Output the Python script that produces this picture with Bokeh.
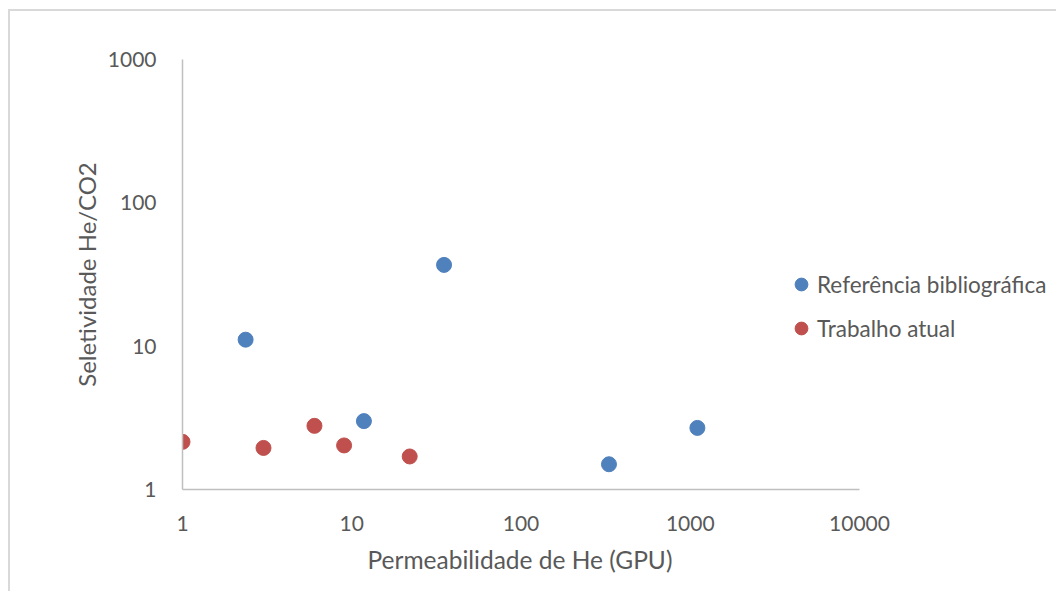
from bokeh.plotting import figure
from bokeh.models import ColumnDataSource, FixedTicker, Legend, LegendItem, Title
from bokeh.embed import file_html
from bokeh.resources import INLINE

# He permeability (GPU) and He/CO2 selectivity
ref_perm = [2.36, 35.1, 11.8, 331, 1102]
ref_sel = [11.1, 36.9, 3.0, 1.50, 2.69]
cur_perm = [1.0, 3.01, 6.02, 9.01, 22.0]
cur_sel = [2.15, 1.95, 2.78, 2.03, 1.70]

x_ticks = [1, 10, 100, 1000, 10000]
y_ticks = [1, 10, 100, 1000]

FONT = "Lato"
TEXT = "#595959"
AXIS = "#BFBFBF"
BLUE = "#4F81BD"
RED = "#C0504D"

# the drawn x axis spans 1..10000 over 677 px; the frame continues to the
# right so the legend can sit beside the axis end
AXIS_PX = 677
CANVAS_W = 1046
FRAME_W = CANVAS_W - 172
x_end = 10 ** (4 * FRAME_W / AXIS_PX)

p = figure(
    x_axis_type="log", y_axis_type="log",
    x_range=(1, x_end), y_range=(1, 1000),
    width=CANVAS_W, height=580,
    frame_width=FRAME_W, frame_height=430,
    min_border_left=172, min_border_right=0,
    min_border_top=48, min_border_bottom=102,
    output_backend="svg", toolbar_location=None,
    background_fill_color="white", border_fill_color="white",
)
p.styles = {"border-top": "2px solid #D9D9D9",
            "border-left": "2px solid #D9D9D9",
            "margin-left": "8px", "margin-top": "9px"}
p.outline_line_color = None
p.grid.visible = False

for ax in (p.xaxis, p.yaxis):
    ax.axis_line_color = AXIS
    ax.axis_line_width = 1.5
    ax.major_tick_line_color = None
    ax.minor_tick_line_color = None
    ax.major_label_text_font = FONT
    ax.major_label_text_font_size = "21px"
    ax.major_label_text_color = TEXT

p.xaxis.bounds = (1, 10000)
p.xaxis.ticker = FixedTicker(ticks=x_ticks)
p.yaxis.ticker = FixedTicker(ticks=y_ticks)
p.xaxis.major_label_overrides = {t: str(t) for t in x_ticks}
p.yaxis.major_label_overrides = {t: str(t) for t in y_ticks}
p.xaxis.major_label_standoff = 20
p.yaxis.major_label_standoff = 20

p.yaxis.axis_label = "Seletividade He/CO2"
p.yaxis.axis_label_text_font = FONT
p.yaxis.axis_label_text_font_size = "24px"
p.yaxis.axis_label_text_font_style = "normal"
p.yaxis.axis_label_text_color = TEXT
p.yaxis.axis_label_standoff = 4

# x title, centred under the drawn axis rather than the wider frame
p.add_layout(Title(text="Permeabilidade de He (GPU)", align="left",
                   offset=185, standoff=18, text_font=FONT,
                   text_font_size="24.5px", text_font_style="normal",
                   text_color=TEXT), "below")

ref_src = ColumnDataSource(dict(x=ref_perm, y=ref_sel))
cur_src = ColumnDataSource(dict(x=cur_perm, y=cur_sel))
r_ref = p.scatter("x", "y", source=ref_src, size=15, fill_color=BLUE,
                  line_color=BLUE)
r_cur = p.scatter("x", "y", source=cur_src, size=15, fill_color=RED,
                  line_color=RED)

legend = Legend(
    items=[LegendItem(label="Referência bibliográfica", renderers=[r_ref]),
           LegendItem(label="Trabalho atual", renderers=[r_cur])],
    location=(603, 145),
    background_fill_alpha=0, border_line_color=None,
    label_text_font=FONT, label_text_font_size="22.5px",
    label_text_color=TEXT, glyph_width=32, glyph_height=32,
    label_standoff=0, spacing=12, padding=0, margin=0,
)
p.add_layout(legend, "center")

open("out.html", "w").write(file_html(p, INLINE))
